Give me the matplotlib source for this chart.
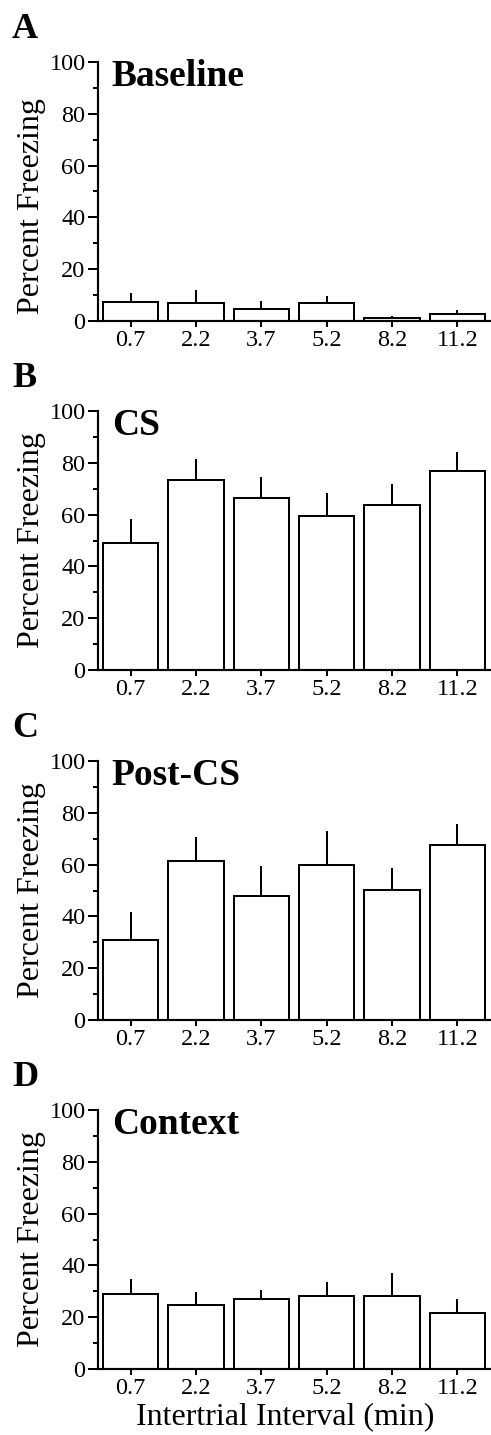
import matplotlib
matplotlib.use("Agg")
import matplotlib.pyplot as plt
from matplotlib.ticker import MultipleLocator

plt.rcParams['font.family'] = ['Liberation Serif', 'DejaVu Serif']

intervals = ["0.7", "2.2", "3.7", "5.2", "8.2", "11.2"]

baseline_mean = [7.5, 6.8, 4.5, 6.8, 1.0, 2.6]
baseline_top = [11.0, 11.8, 7.7, 9.8, 1.9, 4.1]

cs_mean = [49.1, 73.3, 66.4, 59.6, 63.8, 76.9]
cs_top = [58.3, 81.4, 74.5, 68.2, 71.7, 84.2]

postcs_mean = [31.0, 61.4, 47.9, 60.0, 50.1, 67.7]
postcs_top = [41.8, 70.8, 59.6, 73.0, 58.8, 75.7]

context_mean = [28.9, 24.6, 26.9, 28.1, 28.1, 21.6]
context_top = [34.7, 29.8, 30.6, 33.4, 36.9, 27.1]

panels = [
    ("A", "Baseline", baseline_mean, baseline_top),
    ("B", "CS", cs_mean, cs_top),
    ("C", "Post-CS", postcs_mean, postcs_top),
    ("D", "Context", context_mean, context_top),
]

W, H = 491, 1435
fig = plt.figure(figsize=(W / 100, H / 100), dpi=100)

tops_px = [62, 411, 761, 1110]
ax_h_px = 259
left_px, right_px = 98, 490

lw = 1.45
for i, (letter, title, means, tops) in enumerate(panels):
    t = tops_px[i]
    ax = fig.add_axes([left_px / W, 1 - (t + ax_h_px) / H,
                       (right_px - left_px) / W, ax_h_px / H])
    x = list(range(len(intervals)))
    errs = [tp - m for tp, m in zip(tops, means)]
    ax.bar(x, means, width=0.85, color="white", edgecolor="black",
           linewidth=lw, zorder=2)
    ax.errorbar(x, means, yerr=[[0] * len(errs), errs], fmt="none",
                ecolor="black", elinewidth=lw, capsize=0, zorder=1)
    ax.set_xlim(-0.5, 5.5)
    ax.set_ylim(0, 100)
    ax.spines["top"].set_visible(False)
    ax.spines["right"].set_visible(False)
    ax.spines["left"].set_linewidth(lw + 0.1)
    ax.spines["bottom"].set_linewidth(lw + 0.1)
    ax.spines["left"].set_bounds(0, 100)
    ax.set_xticks(x)
    ax.set_xticklabels(intervals)
    ax.yaxis.set_major_locator(MultipleLocator(20))
    ax.yaxis.set_minor_locator(MultipleLocator(10))
    ax.tick_params(axis="y", which="major", length=7, width=lw, labelsize=17.5, pad=2)
    ax.tick_params(axis="y", which="minor", length=3.6, width=lw)
    ax.tick_params(axis="x", which="major", length=4, width=lw, labelsize=17.5, pad=2.5)
    ax.set_ylabel("Percent Freezing", fontsize=23)
    if letter == "A":
        ax.yaxis.set_label_coords(-0.133, 0.444)
    else:
        ax.yaxis.set_label_coords(-0.133, 0.5)
    ax.text(0.035, 1.01, title, transform=ax.transAxes, fontsize=27,
            fontweight="bold", va="top", ha="left")
    fig.text(12 / W, 1 - (t - 49) / H, letter, fontsize=26,
             fontweight="bold", va="top", ha="left")
    if letter == "D":
        ax.set_xlabel("Intertrial Interval (min)", fontsize=23)
        ax.xaxis.set_label_coords(0.477, -0.13)

fig.savefig("out.png", dpi=100)
